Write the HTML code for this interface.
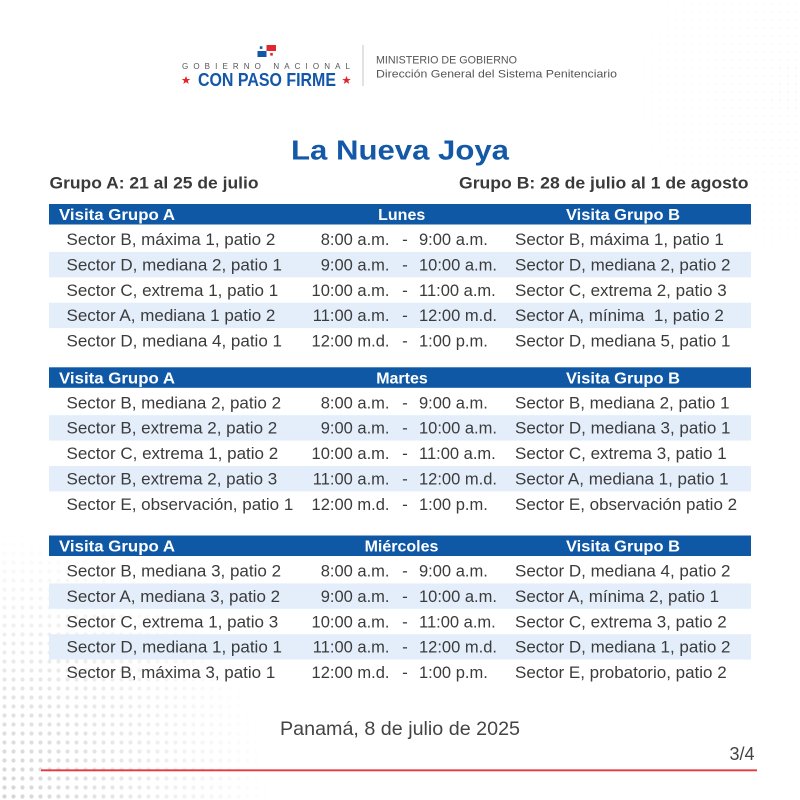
<!DOCTYPE html>
<html>
<head>
<meta charset="utf-8">
<style>
  html,body{margin:0;padding:0;background:#fff;}
  svg{display:block;}
  text{font-family:"Liberation Sans", Arial, sans-serif;}
  .row{font-size:17px;fill:#3b3b3b;}
  .tm{font-size:16.5px;}
  .hd{font-size:16px;font-weight:bold;fill:#fff;}
</style>
</head>
<body>
<svg width="800" height="800" viewBox="0 0 800 800" xmlns="http://www.w3.org/2000/svg">
  <defs>
    <pattern id="dots" width="9" height="9" patternUnits="userSpaceOnUse">
      <circle cx="4.5" cy="4.5" r="2.1" fill="#cfcfcf"/>
    </pattern>
    <pattern id="dots2" width="8" height="8" patternUnits="userSpaceOnUse">
      <circle cx="4" cy="4" r="0.9" fill="#dadada"/>
    </pattern>
    <radialGradient id="gBL" cx="0" cy="800" r="270" gradientUnits="userSpaceOnUse">
      <stop offset="0" stop-color="#fff" stop-opacity="0.9"/>
      <stop offset="0.55" stop-color="#fff" stop-opacity="0.4"/>
      <stop offset="1" stop-color="#fff" stop-opacity="0"/>
    </radialGradient>
    <radialGradient id="gTR" cx="800" cy="90" r="220" gradientUnits="userSpaceOnUse">
      <stop offset="0" stop-color="#fff" stop-opacity="0.35"/>
      <stop offset="1" stop-color="#fff" stop-opacity="0"/>
    </radialGradient>
    <mask id="mBL"><rect width="800" height="800" fill="url(#gBL)"/></mask>
    <mask id="mTR"><rect width="800" height="800" fill="url(#gTR)"/></mask>
  </defs>

  <rect width="800" height="800" fill="#fff"/>
  <rect x="0" y="520" width="320" height="280" fill="url(#dots)" mask="url(#mBL)"/>
  <rect x="560" y="0" width="240" height="330" fill="url(#dots2)" mask="url(#mTR)"/>

  <!-- Logo -->
  <rect x="257.5" y="45" width="9.5" height="6" fill="#fff"/>
  <rect x="266.5" y="45" width="9.5" height="6" fill="#e2262d"/>
  <rect x="257.5" y="51" width="9.5" height="6" fill="#1457a8"/>
  <rect x="266.5" y="51" width="9.5" height="6" fill="#fff"/>
  <rect x="259.8" y="46.3" width="2.6" height="2.6" fill="#1457a8"/>
  <rect x="270.2" y="53" width="2.6" height="2.6" fill="#e2262d"/>
  <text x="182" y="69" font-size="8" fill="#555" textLength="168" lengthAdjust="spacing">GOBIERNO NACIONAL</text>
  <text x="198" y="86" font-size="18.5" font-weight="bold" fill="#1457a8" textLength="138" lengthAdjust="spacingAndGlyphs">CON PASO FIRME</text>
  <polygon points="186,76 187.2,79 190.3,79 187.8,80.9 188.7,83.9 186,82.1 183.3,83.9 184.2,80.9 181.7,79 184.8,79" fill="#e2262d"/>
  <polygon points="346.5,76 347.7,79 350.8,79 348.3,80.9 349.2,83.9 346.5,82.1 343.8,83.9 344.7,80.9 342.2,79 345.3,79" fill="#e2262d"/>
  <line x1="363" y1="45" x2="363" y2="86" stroke="#c4c4c4" stroke-width="1"/>
  <text x="376" y="63.3" font-size="11.3" fill="#555" textLength="141" lengthAdjust="spacingAndGlyphs">MINISTERIO DE GOBIERNO</text>
  <text x="376" y="77.3" font-size="11.3" fill="#555" textLength="241" lengthAdjust="spacingAndGlyphs">Dirección General del Sistema Penitenciario</text>

  <!-- Title -->
  <text x="291" y="159.3" font-size="28" font-weight="bold" fill="#1459a8" textLength="218" lengthAdjust="spacingAndGlyphs">La Nueva Joya</text>

  <text x="49.5" y="188.3" font-size="16.5" font-weight="bold" fill="#3a3a3a" textLength="209" lengthAdjust="spacingAndGlyphs">Grupo A: 21 al 25 de julio</text>
  <text x="459" y="188.3" font-size="16.5" font-weight="bold" fill="#3a3a3a" textLength="289.5" lengthAdjust="spacingAndGlyphs">Grupo B: 28 de julio al 1 de agosto</text>

  <!-- TABLE 1 -->
  <g transform="translate(0,204)">
    <rect x="49" y="0" width="702" height="20.5" fill="#0f58a6"/>
    <text class="hd" x="59" y="16" textLength="116" lengthAdjust="spacingAndGlyphs">Visita Grupo A</text>
    <text class="hd" x="401.7" y="16" text-anchor="middle">Lunes</text>
    <text class="hd" x="566" y="16" textLength="114" lengthAdjust="spacingAndGlyphs">Visita Grupo B</text>
    <rect x="49" y="47.9" width="702" height="25.4" fill="#e3eefa"/>
    <rect x="49" y="98.7" width="702" height="25.4" fill="#e3eefa"/>
    <g class="row">
      <text x="66.5" y="41">Sector B, máxima 1, patio 2</text>
      <text class="tm" x="389.5" y="41" text-anchor="end">8:00 a.m.</text><text x="405" y="41" text-anchor="middle">-</text><text class="tm" x="419" y="41">9:00 a.m.</text>
      <text x="515" y="41">Sector B, máxima 1, patio 1</text>

      <text x="66.5" y="66.4">Sector D, mediana 2, patio 1</text>
      <text class="tm" x="389.5" y="66.4" text-anchor="end">9:00 a.m.</text><text x="405" y="66.4" text-anchor="middle">-</text><text class="tm" x="419" y="66.4">10:00 a.m.</text>
      <text x="515" y="66.4">Sector D, mediana 2, patio 2</text>

      <text x="66.5" y="91.8">Sector C, extrema 1, patio 1</text>
      <text class="tm" x="389.5" y="91.8" text-anchor="end">10:00 a.m.</text><text x="405" y="91.8" text-anchor="middle">-</text><text class="tm" x="419" y="91.8">11:00 a.m.</text>
      <text x="515" y="91.8">Sector C, extrema 2, patio 3</text>

      <text x="66.5" y="117.2">Sector A, mediana 1 patio 2</text>
      <text class="tm" x="389.5" y="117.2" text-anchor="end">11:00 a.m.</text><text x="405" y="117.2" text-anchor="middle">-</text><text class="tm" x="419" y="117.2">12:00 m.d.</text>
      <text x="515" y="117.2" xml:space="preserve">Sector A, mínima  1, patio 2</text>

      <text x="66.5" y="142.6">Sector D, mediana 4, patio 1</text>
      <text class="tm" x="389.5" y="142.6" text-anchor="end">12:00 m.d.</text><text x="405" y="142.6" text-anchor="middle">-</text><text class="tm" x="419" y="142.6">1:00 p.m.</text>
      <text x="515" y="142.6">Sector D, mediana 5, patio 1</text>
    </g>
  </g>

  <!-- TABLE 2 -->
  <g transform="translate(0,367.3)">
    <rect x="49" y="0" width="702" height="20.5" fill="#0f58a6"/>
    <text class="hd" x="59" y="16" textLength="116" lengthAdjust="spacingAndGlyphs">Visita Grupo A</text>
    <text class="hd" x="402" y="16" text-anchor="middle">Martes</text>
    <text class="hd" x="566" y="16" textLength="114" lengthAdjust="spacingAndGlyphs">Visita Grupo B</text>
    <rect x="49" y="47.9" width="702" height="25.4" fill="#e3eefa"/>
    <rect x="49" y="98.7" width="702" height="25.4" fill="#e3eefa"/>
    <g class="row">
      <text x="66.5" y="41">Sector B, mediana 2, patio 2</text>
      <text class="tm" x="389.5" y="41" text-anchor="end">8:00 a.m.</text><text x="405" y="41" text-anchor="middle">-</text><text class="tm" x="419" y="41">9:00 a.m.</text>
      <text x="515" y="41">Sector B, mediana 2, patio 1</text>

      <text x="66.5" y="66.4">Sector B, extrema 2, patio 2</text>
      <text class="tm" x="389.5" y="66.4" text-anchor="end">9:00 a.m.</text><text x="405" y="66.4" text-anchor="middle">-</text><text class="tm" x="419" y="66.4">10:00 a.m.</text>
      <text x="515" y="66.4">Sector D, mediana 3, patio 1</text>

      <text x="66.5" y="91.8">Sector C, extrema 1, patio 2</text>
      <text class="tm" x="389.5" y="91.8" text-anchor="end">10:00 a.m.</text><text x="405" y="91.8" text-anchor="middle">-</text><text class="tm" x="419" y="91.8">11:00 a.m.</text>
      <text x="515" y="91.8">Sector C, extrema 3, patio 1</text>

      <text x="66.5" y="117.2">Sector B, extrema 2, patio 3</text>
      <text class="tm" x="389.5" y="117.2" text-anchor="end">11:00 a.m.</text><text x="405" y="117.2" text-anchor="middle">-</text><text class="tm" x="419" y="117.2">12:00 m.d.</text>
      <text x="515" y="117.2">Sector A, mediana 1, patio 1</text>

      <text x="66.5" y="142.6">Sector E, observación, patio 1</text>
      <text class="tm" x="389.5" y="142.6" text-anchor="end">12:00 m.d.</text><text x="405" y="142.6" text-anchor="middle">-</text><text class="tm" x="419" y="142.6">1:00 p.m.</text>
      <text x="515" y="142.6">Sector E, observación patio 2</text>
    </g>
  </g>

  <!-- TABLE 3 -->
  <g transform="translate(0,535.5)">
    <rect x="49" y="0" width="702" height="20.5" fill="#0f58a6"/>
    <text class="hd" x="59" y="16" textLength="116" lengthAdjust="spacingAndGlyphs">Visita Grupo A</text>
    <text class="hd" x="401.5" y="16" text-anchor="middle">Miércoles</text>
    <text class="hd" x="566" y="16" textLength="114" lengthAdjust="spacingAndGlyphs">Visita Grupo B</text>
    <rect x="49" y="47.9" width="702" height="25.4" fill="#e3eefa"/>
    <rect x="49" y="98.7" width="702" height="25.4" fill="#e3eefa"/>
    <g class="row">
      <text x="66.5" y="41">Sector B, mediana 3, patio 2</text>
      <text class="tm" x="389.5" y="41" text-anchor="end">8:00 a.m.</text><text x="405" y="41" text-anchor="middle">-</text><text class="tm" x="419" y="41">9:00 a.m.</text>
      <text x="515" y="41">Sector D, mediana 4, patio 2</text>

      <text x="66.5" y="66.4">Sector A, mediana 3, patio 2</text>
      <text class="tm" x="389.5" y="66.4" text-anchor="end">9:00 a.m.</text><text x="405" y="66.4" text-anchor="middle">-</text><text class="tm" x="419" y="66.4">10:00 a.m.</text>
      <text x="515" y="66.4">Sector A, mínima 2, patio 1</text>

      <text x="66.5" y="91.8">Sector C, extrema 1, patio 3</text>
      <text class="tm" x="389.5" y="91.8" text-anchor="end">10:00 a.m.</text><text x="405" y="91.8" text-anchor="middle">-</text><text class="tm" x="419" y="91.8">11:00 a.m.</text>
      <text x="515" y="91.8">Sector C, extrema 3, patio 2</text>

      <text x="66.5" y="117.2">Sector D, mediana 1, patio 1</text>
      <text class="tm" x="389.5" y="117.2" text-anchor="end">11:00 a.m.</text><text x="405" y="117.2" text-anchor="middle">-</text><text class="tm" x="419" y="117.2">12:00 m.d.</text>
      <text x="515" y="117.2">Sector D, mediana 1, patio 2</text>

      <text x="66.5" y="142.6">Sector B, máxima 3, patio 1</text>
      <text class="tm" x="389.5" y="142.6" text-anchor="end">12:00 m.d.</text><text x="405" y="142.6" text-anchor="middle">-</text><text class="tm" x="419" y="142.6">1:00 p.m.</text>
      <text x="515" y="142.6">Sector E, probatorio, patio 2</text>
    </g>
  </g>

  <!-- Footer -->
  <text x="280" y="735" font-size="19.5" fill="#444" textLength="240" lengthAdjust="spacingAndGlyphs">Panamá, 8 de julio de 2025</text>
  <text x="754.5" y="760" font-size="18" fill="#444" text-anchor="end">3/4</text>
  <line x1="41" y1="770.3" x2="757" y2="770.3" stroke="#e8363c" stroke-width="1.8"/>
</svg>
</body>
</html>
